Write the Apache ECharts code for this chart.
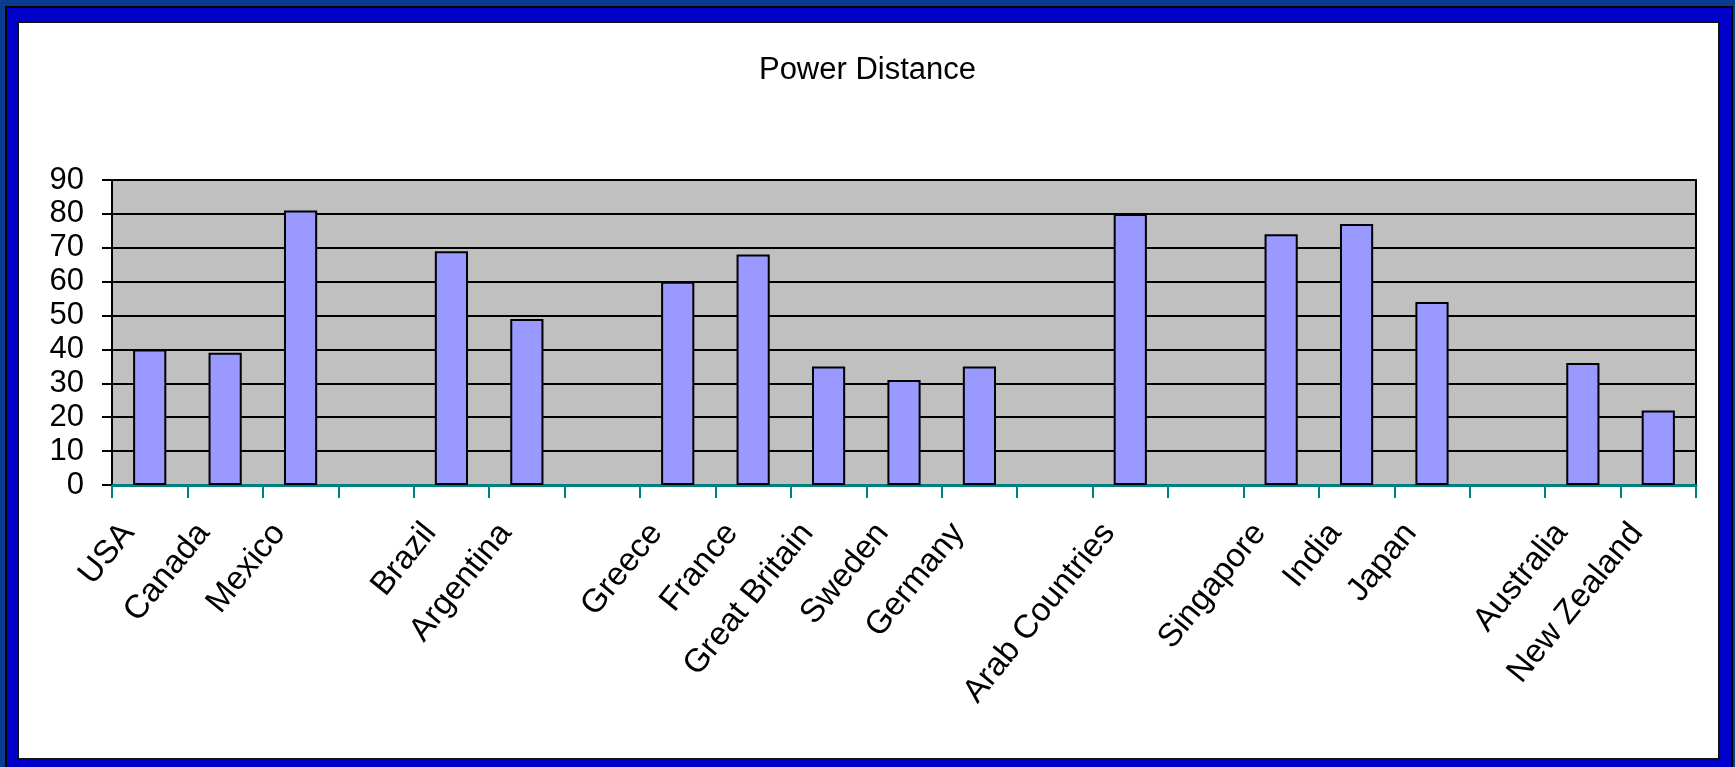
<!DOCTYPE html>
<html>
<head>
<meta charset="utf-8">
<title>Power Distance</title>
<script src="https://cdn.jsdelivr.net/npm/echarts@6/dist/echarts.min.js"></script>
<style>
  html, body { margin: 0; padding: 0; }
  body { width: 1735px; height: 767px; background: #0a3d91; position: relative; overflow: hidden; }
  .frame { position: absolute; left: 5px; top: 6px; width: 1728px; height: 765px; background: #0000cc; border: 2px solid #000; box-sizing: border-box; }
  .paper { position: absolute; left: 17px; top: 21px; width: 1703px; height: 739px; background: #fff; border: 2px solid #111; box-sizing: border-box; }
  #chart { position: absolute; left: 0; top: 0; width: 1735px; height: 767px; }
</style>
</head>
<body>
<div class="frame"></div>
<div class="paper"></div>
<div id="chart"></div>
<script>
  // empty strings are the gaps between regions
  var categories = ['USA', 'Canada', 'Mexico', '', 'Brazil', 'Argentina', '',
    'Greece', 'France', 'Great Britain', 'Sweden', 'Germany', '',
    'Arab Countries', '', 'Singapore', 'India', 'Japan', '',
    'Australia', 'New Zealand'];
  var powerDistance = [40, 39, 81, null, 69, 49, null,
    60, 68, 35, 31, 35, null,
    80, null, 74, 77, 54, null,
    36, 22];
  var yMin = 0, yMax = 90, yStep = 10;

  var font = '"Liberation Sans", Arial, sans-serif';
  var chart = echarts.init(document.getElementById('chart'));

  var option = {
    backgroundColor: 'transparent',
    animation: false,
    title: {
      text: 'Power Distance',
      left: 'center',
      top: 50,
      textStyle: { fontFamily: font, fontSize: 31, fontWeight: 'normal', color: '#000' }
    },
    grid: {
      left: 112,
      top: 180,
      right: 39,
      bottom: 282,
      show: true,
      backgroundColor: '#c0c0c0',
      borderColor: '#000',
      borderWidth: 2
    },
    xAxis: {
      type: 'category',
      data: categories,
      axisLine: { show: true, lineStyle: { color: '#008080', width: 3 } },
      axisTick: { show: true, interval: 0, length: 13, lineStyle: { color: '#008080', width: 2 } },
      axisLabel: {
        interval: 0,
        rotate: 51,
        margin: 16,
        padding: [0, 34, 0, 0],
        fontFamily: font,
        fontSize: 33,
        color: '#000'
      }
    },
    yAxis: {
      type: 'value',
      min: yMin,
      max: yMax,
      interval: yStep,
      axisLine: { show: true, lineStyle: { color: '#000', width: 2 } },
      axisTick: { show: true, length: 10, lineStyle: { color: '#000', width: 2 } },
      axisLabel: { margin: 28, fontFamily: font, fontSize: 31, color: '#000' },
      splitLine: { lineStyle: { color: '#000', width: 2 } }
    },
    series: [{
      name: 'Power Distance',
      type: 'bar',
      data: powerDistance,
      barWidth: '44%',
      itemStyle: { color: '#9999ff', borderColor: '#000', borderWidth: 2 }
    }]
  };

  chart.setOption(option);
</script>
</body>
</html>
